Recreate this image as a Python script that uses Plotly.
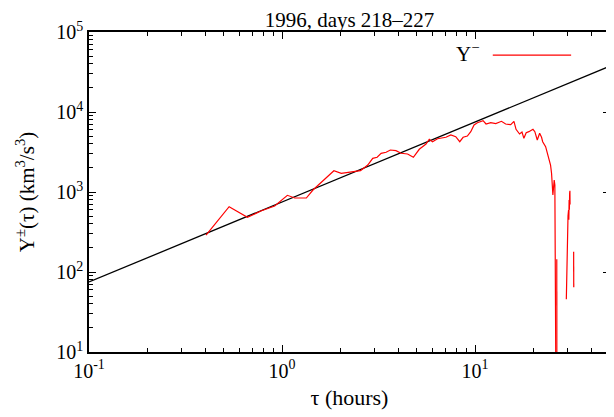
import plotly.graph_objects as go

# ---- data ----
tau_hours = [0.404, 0.532, 0.662, 0.783, 0.916, 1.066, 1.164, 1.336, 1.446, 1.662,
             1.856, 2.027, 2.28, 2.55, 2.78, 2.95, 3.11, 3.26, 3.46, 3.64,
             3.89, 4.14, 4.47, 4.79, 5.14, 5.35, 5.57, 5.79, 6.02, 6.39,
             7.06, 7.49, 7.94, 8.33, 8.67, 9.12, 9.50, 9.88, 10.28, 11.0,
             11.4, 12.05, 12.8, 13.7, 14.4, 15.3, 15.9, 16.3, 17.0, 17.5,
             17.9, 18.4, 19.0, 19.95, 20.4, 21.0, 21.6, 22.1, 22.4, 23.2,
             23.9, 24.6, 24.9, 25.1, 25.3, 25.7, 25.9, 26.3,
             None,
             26.5, 26.55,
             None,
             29.7, 30.05, 30.3, 30.5, 30.6, 30.7, 30.8, 30.9, 31.0, 31.05,
             None,
             32.4, 32.45]
y_minus = [290, 655, 483, 583, 668, 909, 841, 841, 1059, 1442,
           1846, 1713, 1794, 1846, 2175, 2638, 2716, 3047, 3135, 3350,
           3283, 3047, 2985, 2716, 3420, 3683, 3981, 4560, 4255, 4637,
           4830, 5157, 4912, 4255, 4830, 5012, 5675, 6879, 7345, 7780,
           7080, 7345, 7150, 7650, 7080, 6940, 7650, 6080, 5310, 5620,
           4690, 5510, 5675, 6080, 5675, 4467, 5420, 4830, 4255, 3683,
           2818, 2175, 1713, 1163, 917, 1413, 1223, 1,
           None,
           144, 1,
           None,
           45.6, 352, 500, 596, 450, 794, 600, 967, 1038, 700,
           None,
           179, 64.4]

fit_tau = [0.1, 50]
fit_Y = [75, 37500]

x_tickvals = [0.1, 1, 10]
x_ticktext = ["10<sup>-1</sup>", "10<sup>0</sup>", "10<sup>1</sup>"]
x_minor = [0.2, 0.3, 0.4, 0.5, 0.6, 0.7, 0.8, 0.9,
           2, 3, 4, 5, 6, 7, 8, 9, 20, 30, 40, 50]
y_tickvals = [10, 100, 1000, 10000, 100000]
y_ticktext = ["10<sup>1</sup>", "10<sup>2</sup>", "10<sup>3</sup>",
              "10<sup>4</sup>", "10<sup>5</sup>"]
y_minor = [m * 10 ** e for e in range(1, 5) for m in range(2, 10)]

title_text = "1996, days 218\u2013227"
legend_label = "Y<sup>\u2212</sup>"

FONT = "Liberation Serif, Times New Roman, Times, DejaVu Serif, serif"

fig = go.Figure()
fig.add_trace(go.Scatter(x=fit_tau, y=fit_Y, mode="lines",
                         line=dict(color="black", width=1.3),
                         showlegend=False, hoverinfo="skip"))
fig.add_trace(go.Scatter(x=tau_hours, y=y_minus, mode="lines",
                         line=dict(color="#ff0000", width=1.2),
                         connectgaps=False, showlegend=False))

axis_common = dict(
    showgrid=False, zeroline=False, showline=True, linecolor="black",
    linewidth=1.5, mirror="ticks", ticks="inside", ticklen=7,
    tickwidth=1, tickcolor="black",
    tickfont=dict(family=FONT, size=20, color="black"),
)

fig.update_xaxes(type="log", range=[-1, 1.69897],
                 tickmode="array", tickvals=x_tickvals, ticktext=x_ticktext,
                 minor=dict(tickmode="array", tickvals=x_minor, ticks="inside",
                            ticklen=4, tickwidth=1, tickcolor="black"),
                 title=dict(text="\u03c4 (hours)",
                            font=dict(family=FONT, size=22, color="black"),
                            standoff=9),
                 **axis_common)
fig.update_yaxes(type="log", range=[1, 5],
                 tickmode="array", tickvals=y_tickvals, ticktext=y_ticktext,
                 minor=dict(tickmode="array", tickvals=y_minor, ticks="inside",
                            ticklen=4, tickwidth=1, tickcolor="black"),
                 title=dict(text="Y<sup>\u00b1</sup>(\u03c4) (km<sup>3</sup>/s<sup>3</sup>)",
                            font=dict(family=FONT, size=21, color="black"),
                            standoff=16),
                 **axis_common)

# legend drawn gnuplot-style: label then sample line
fig.add_annotation(xref="paper", yref="paper", x=0.753, y=0.935,
                   xanchor="right", yanchor="middle", showarrow=False,
                   text=legend_label,
                   font=dict(family=FONT, size=21, color="black"))
fig.add_shape(type="line", xref="paper", yref="paper",
              x0=0.775, x1=0.9254, y0=0.928, y1=0.928,
              line=dict(color="#ff0000", width=1.2))

fig.update_layout(
    width=606, height=409,
    margin=dict(l=81, r=2, t=24, b=65),
    paper_bgcolor="white", plot_bgcolor="white",
    title=dict(text=title_text, x=0.5, xanchor="center", xref="paper",
               y=0.972, yanchor="middle",
               font=dict(family=FONT, size=21, color="black")),
    font=dict(family=FONT, color="black"),
)

fig.write_html("out.html")
